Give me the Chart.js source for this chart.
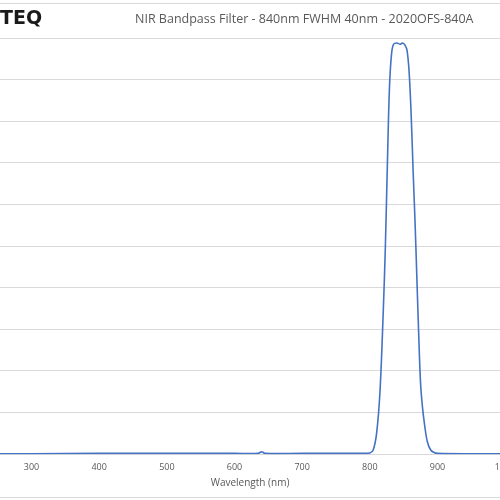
<!DOCTYPE html>
<html><head><meta charset="utf-8">
<script src="https://cdn.jsdelivr.net/npm/chart.js@4"></script>
<style>html,body{margin:0;padding:0;overflow:hidden;background:#fff;width:500px;height:500px}
#wrap{position:absolute;left:-40px;top:0;width:580px;height:500px}</style></head>
<body><div id="wrap"><canvas id="c"></canvas></div>
<script>
const wavelengths=[253,300,400,500,600,635,640,645,700,780,790,800,805,810,815,820,823,826,829,832,835,840,845,848,852,855,858,861,864,867,870,872,875,878,881,885,890,895,900,950,1000];
const transmission=[0.1,0.1,0.2,0.2,0.2,0.2,0.6,0.2,0.2,0.2,0.2,0.3,1,5,15,35,50,70,88,96,98.5,98.8,98.5,98.8,98.3,97,92,82,68,55,40,30,17,11,7,3,1,0.4,0.2,0.1,0.1];
const xTicks=[300,400,500,600,700,800,900,1000];
const yTicks=[0,10,20,30,40,50,60,70,80,90,100];
const titleText='NIR Bandpass Filter - 840nm FWHM 40nm - 2020OFS-840A';
const logoText='TEQ';
const deco={id:'deco',afterDraw(ch){const c=ch.ctx;c.save();
c.strokeStyle='#d9d9d9';c.lineWidth=1;
c.beginPath();c.moveTo(0,3.5);c.lineTo(580,3.5);c.moveTo(0,497.5);c.lineTo(580,497.5);c.stroke();
c.fillStyle='#1a1a1a';c.font='bold 19px "DejaVu Sans"';c.textBaseline='middle';c.fillText(logoText,40,19);
c.fillStyle='#595959';c.font='12.5px "Open Sans"';c.textAlign='left';c.fillText(titleText,175,19);
c.restore();}};
new Chart(document.getElementById('c'),{type:'line',
data:{datasets:[{data:wavelengths.map((x,i)=>({x,y:transmission[i]})),borderColor:'#4472C4',borderWidth:1.6,pointRadius:0,tension:0.35,fill:false}]},
options:{responsive:true,maintainAspectRatio:false,animation:false,
layout:{padding:{left:40,right:40,top:38,bottom:11}},
plugins:{legend:{display:false},tooltip:{enabled:false}},
scales:{
x:{type:'linear',min:253.4,max:992.4,afterBuildTicks(s){s.ticks=xTicks.map(v=>({value:v}));},
grid:{display:false,drawTicks:false},border:{color:'#d9d9d9'},
ticks:{color:'#595959',font:{size:9,family:'Open Sans'},maxRotation:0,padding:8,callback:v=>String(v)},
title:{display:true,text:'Wavelength (nm)',color:'#595959',font:{size:10,family:'Open Sans'},padding:{top:-4,bottom:0}}},
y:{min:0,max:100,afterBuildTicks(s){s.ticks=yTicks.map(v=>({value:v}));},
ticks:{display:false},grid:{color:'#d9d9d9',drawTicks:false},border:{display:false}}}},
plugins:[deco]});
</script></body></html>
